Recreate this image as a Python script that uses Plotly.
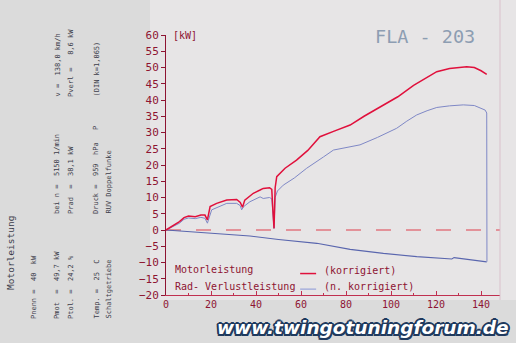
import plotly.graph_objects as go

# ---- data ----
speed_red = [0, 3, 6, 8, 10, 13, 15.5, 17.3, 18.4, 19.6, 22.5, 27, 31.4, 33, 34, 35, 38.8, 41.8, 43.2, 46, 47,
             47.5, 48, 48.5, 49.2, 52.9, 58, 63, 68.4, 75, 81.8, 88, 96.6, 103, 110, 115, 120.3, 126, 130,
             133.6, 137, 140, 142.5]
power_corr = [0, 1.2, 2.6, 3.8, 4.3, 4.1, 4.6, 4.6, 3.1, 7.2, 8.2, 9.2, 9.4, 8.5, 7.0, 9.2, 11.3, 12.3, 12.8,
              13.0, 12.5, 6, 0.5, 13, 16.4, 19, 21.5, 24.5, 28.7, 30.5, 32.3, 35, 38.5, 41, 44.5, 46.5, 48.7,
              49.7, 50, 50.2, 50, 49, 47.9]

speed_blue = [0, 3, 6, 8, 10, 13, 15.5, 17.3, 18.4, 20.3, 23, 27, 31.4, 33, 33.6, 34.5, 37.3, 41.8, 43.2, 46,
              47, 47.5, 48, 48.5, 49.5, 52.1, 57, 62.5, 65.5, 70, 74.4, 80, 86.2, 94, 102.5, 107, 111.4, 116,
              120.3, 126, 132.1, 137, 141.8, 142.5, 142.6]
power_uncorr = [0, 1.0, 2.1, 3.3, 3.7, 3.5, 3.9, 3.6, 2.1, 6.2, 7.0, 8.2, 8.2, 7.5, 6.2, 7.2, 8.7, 10.2, 9.7,
                10, 9.6, 5, 0.5, 10, 12, 13.8, 16, 19, 20.5, 22.5, 24.6, 25.3, 26.2, 28.5, 31.3, 33.5, 35.4,
                36.7, 37.7, 38.2, 38.5, 38.3, 36.9, 36, -9.75]

speed_loss = [0, 20, 37.3, 50, 67, 81.8, 96.6, 111.4, 120, 126, 127, 128, 135, 141, 142.5]
power_loss = [0, -1.0, -1.85, -2.9, -4.1, -5.95, -7.2, -8.2, -8.6, -9.0, -8.9, -8.5, -9.2, -9.75, -9.8]

x_ticks = [0, 20, 40, 60, 80, 100, 120, 140]
y_ticks = list(range(-20, 61, 5))

info_texts = [
    ("Motorleistung", 10, 292, 9.5),
    ("Pnenn =  40  kW", 34, 321, 7),
    ("Pmot  =  49,7 kW", 57, 321, 7),
    ("bei n =  5150 1/min", 57, 216, 7),
    ("v =  138,0 km/h", 57, 99, 7),
    ("Ptol. =  24,2 %", 71, 321, 7),
    ("Prad  =  38,1 kW", 71, 216, 7),
    ("Pverl =   8,6 kW", 71, 99, 7),
    ("Temp. =  25  C", 96, 321, 7),
    ("Druck =  959  hPa", 96, 216, 7),
    ("P", 96, 132, 7),
    ("(DIN k=1,065)", 96, 99, 7),
    ("Schaltgetriebe", 108, 321, 7),
    ("RUV Doppelfunke", 108, 216, 7),
]

# ---- layout geometry ----
W, H = 516, 343
L, R, T, B = 166, 500, 35, 295


def px(x):
    return (x - L) / (R - L)


def py(y):
    return (B - y) / (B - T)


MONO = "DejaVu Sans Mono"
DARKRED = "#8e1432"
RED = "#e0103c"
BLUE = "#7f88c6"
LOSS = "#5a66ae"

fig = go.Figure()

# zero dashed line
fig.add_trace(go.Scatter(x=[0, 148.4], y=[0, 0], mode="lines",
                         line=dict(color="#e0404c", width=1.2, dash="15px,15px"),
                         hoverinfo="skip", showlegend=False))
fig.add_trace(go.Scatter(x=speed_loss, y=power_loss, mode="lines",
                         line=dict(color=LOSS, width=1.1), showlegend=False))
fig.add_trace(go.Scatter(x=speed_blue, y=power_uncorr, mode="lines",
                         line=dict(color=BLUE, width=1), showlegend=False))
fig.add_trace(go.Scatter(x=speed_red, y=power_corr, mode="lines",
                         line=dict(color=RED, width=1.5), showlegend=False))

# legend-like marks
fig.add_trace(go.Scatter(x=[59.6, 66.7], y=[-13.4, -13.4], mode="lines",
                         line=dict(color=RED, width=1.5), showlegend=False))
fig.add_trace(go.Scatter(x=[59.6, 66.7], y=[-18.2, -18.2], mode="lines",
                         line=dict(color="#a9b0dc", width=1.5), showlegend=False))

annotations = []
for txt, x, ybot, size in info_texts:
    annotations.append(dict(text=txt, x=px(x), y=py(ybot), xref="paper", yref="paper",
                            xanchor="center", yanchor="bottom", textangle=-90, showarrow=False,
                            font=dict(family=MONO, size=size, color="#3c3c4a")))

annotations += [
    dict(text="[kW]", x=8.4, y=60, xref="x", yref="y", xanchor="center", yanchor="middle",
         showarrow=False, font=dict(family=MONO, size=10, color=DARKRED)),
    dict(text="FLA - 203", x=px(425), y=py(36), xref="paper", yref="paper", xanchor="center",
         yanchor="middle", showarrow=False, font=dict(family=MONO, size=18.5, color="#8d9db2")),
    dict(text="Motorleistung", x=3.0, y=-12.3, xref="x", yref="y", xanchor="left", yanchor="middle",
         showarrow=False, font=dict(family=MONO, size=10, color=DARKRED)),
    dict(text="Rad- Verlustleistung", x=3.0, y=-17.5, xref="x", yref="y", xanchor="left",
         yanchor="middle", showarrow=False, font=dict(family=MONO, size=10, color=DARKRED)),
    dict(text="(korrigiert)", x=69.3, y=-12.6, xref="x", yref="y", xanchor="left", yanchor="middle",
         showarrow=False, font=dict(family=MONO, size=10, color=DARKRED)),
    dict(text="(n. korrigiert)", x=69.3, y=-17.5, xref="x", yref="y", xanchor="left",
         yanchor="middle", showarrow=False, font=dict(family=MONO, size=10, color=DARKRED)),
    dict(text="www.twingotuningforum.de", x=px(363), y=py(327), xref="paper", yref="paper",
         xanchor="center", yanchor="middle", showarrow=False,
         font=dict(family="DejaVu Sans", size=18.5, weight=900, style="italic", color="white",
                   shadow="1.5px 1.5px 0 #1f3a5e, -1.5px -1.5px 0 #1f3a5e, 1.5px -1.5px 0 #1f3a5e, "
                          "-1.5px 1.5px 0 #1f3a5e, 0 2px 0 #1f3a5e, 0 -2px 0 #1f3a5e, "
                          "2px 0 0 #1f3a5e, -2px 0 0 #1f3a5e")),
]

shapes = [
    dict(type="rect", xref="paper", yref="paper", x0=px(150), x1=px(516), y0=py(300), y1=py(0),
         fillcolor="#e7e5e6", line=dict(width=0), layer="below"),
    dict(type="line", xref="paper", yref="paper", x0=1, x1=1, y0=py(300), y1=py(0),
         line=dict(color="rgba(215,185,200,0.7)", width=1.2)),
]

fig.update_layout(
    width=W, height=H,
    margin=dict(l=L, r=W - R, t=T, b=H - B),
    paper_bgcolor="#dbdbdb",
    plot_bgcolor="rgba(0,0,0,0)",
    annotations=annotations,
    shapes=shapes,
    showlegend=False,
)
fig.update_xaxes(range=[0, 148.4], tickvals=x_ticks, ticks="inside", ticklen=4, tickcolor="#c03050",
                 showgrid=False, zeroline=False, showline=True, linecolor="#c03050", linewidth=1,
                 tickfont=dict(family=MONO, size=10, color=DARKRED),
                 minor=dict(dtick=10, ticks="inside", ticklen=2, tickcolor="#c03050"))
fig.update_yaxes(range=[-20, 60], tickvals=y_ticks, ticks="outside", ticklen=4, tickcolor=DARKRED,
                 showgrid=False, zeroline=False, showline=True, linecolor=DARKRED, linewidth=1,
                 tickfont=dict(family=MONO, size=11, color=DARKRED))

fig.write_html("out.html")
